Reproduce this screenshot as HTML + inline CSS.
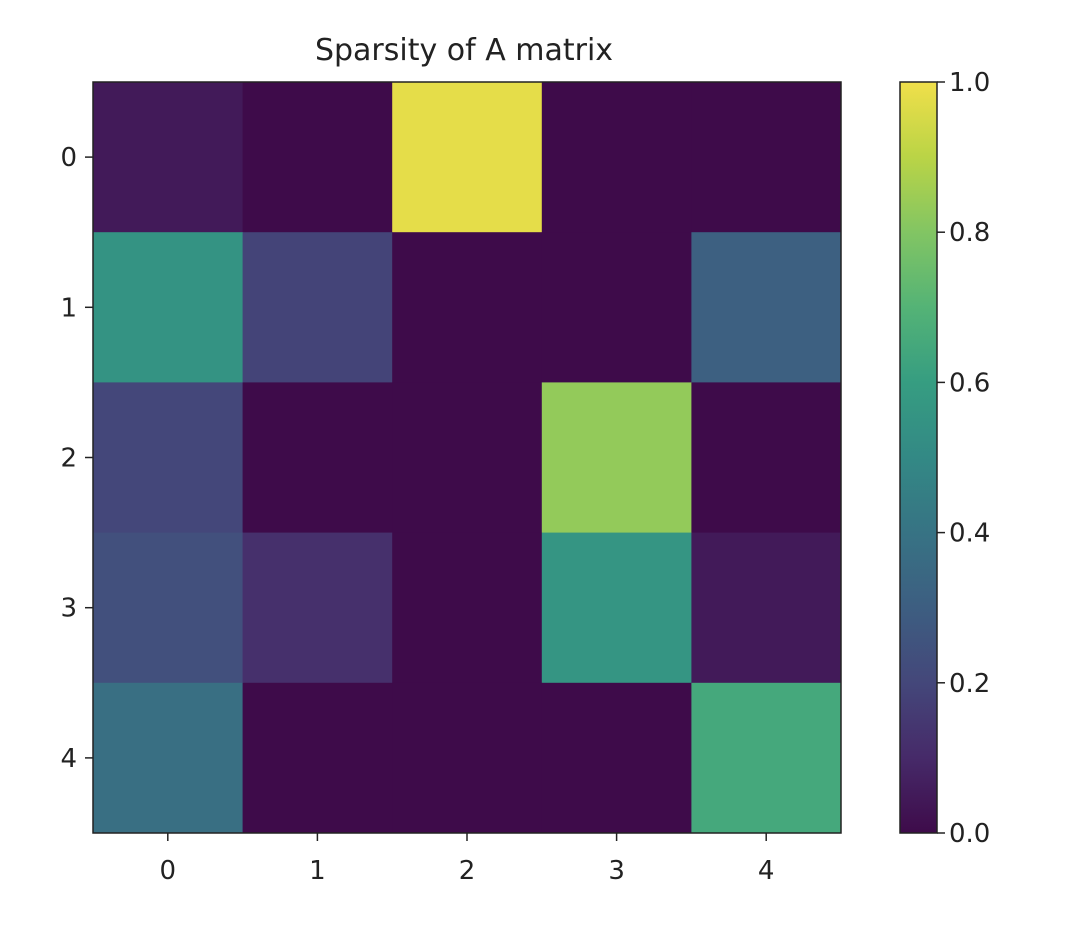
<!DOCTYPE html>
<html><head><meta charset="utf-8"><style>
body{margin:0;background:#fff;}
svg text{font-family:"DejaVu Sans","Liberation Sans",sans-serif;fill:#222;}
</style></head><body>
<svg id="chart" width="1074" height="932" xmlns="http://www.w3.org/2000/svg">
<defs><linearGradient id="vg" x1="0" y1="1" x2="0" y2="0"></linearGradient></defs>
<text x="464" y="60" font-size="30" text-anchor="middle">Sparsity of A matrix</text>
<g id="cells"></g>
<g id="axes"></g>
<g id="cbar"></g>
</svg>
<script>
const rowLabels=["0","1","2","3","4"];
const colLabels=["0","1","2","3","4"];
const values=[
[0.05,0.0,0.98,0.0,0.0],
[0.55,0.19,0.0,0.0,0.31],
[0.20,0.0,0.0,0.83,0.0],
[0.24,0.12,0.0,0.56,0.05],
[0.38,0.0,0.0,0.0,0.65]];
const cbarTicks=[0,0.2,0.4,0.6,0.8,1.0];
const cbarTickLabels=["0.0","0.2","0.4","0.6","0.8","1.0"];

const NS="http://www.w3.org/2000/svg";
const vir=[[68,1,84],[72,36,117],[65,68,135],[53,95,141],[42,120,142],[33,145,140],[34,168,132],[68,191,112],[122,209,81],[189,223,38],[253,231,37]];
function muted(c){const l=0.3*c[0]+0.59*c[1]+0.11*c[2];
 return c.map(v=>Math.max(0,Math.min(255,Math.round((l+(v-l)*0.8)*0.96+4))));}
function viridis(t){t=Math.max(0,Math.min(1,t));const p=t*10,i=Math.min(9,Math.floor(p)),f=p-i;const a=vir[i],b=vir[i+1];
return `rgb(${muted(a.map((v,k)=>v+(b[k]-v)*f)).join(",")})`;}
const X0=93,X1=841,Y0=82,Y1=833;
const cw=(X1-X0)/colLabels.length,ch=(Y1-Y0)/rowLabels.length;
const xS=j=>X0+j*cw, yS=i=>Y0+i*ch;
function mk(tag,attrs,parent){const e=document.createElementNS(NS,tag);for(const k in attrs)e.setAttribute(k,attrs[k]);parent.appendChild(e);return e;}
const cells=document.getElementById('cells'),axes=document.getElementById('axes'),cb=document.getElementById('cbar');
values.forEach((row,i)=>row.forEach((v,j)=>{
 const r=mk('rect',{x:xS(j),y:yS(i),width:cw+0.5,height:ch+0.5,fill:viridis(v)},cells);
 
 
}));
mk('rect',{x:X0,y:Y0,width:X1-X0,height:Y1-Y0,fill:'none',stroke:'#222','stroke-width':1.5},axes);
rowLabels.forEach((l,i)=>{const y=yS(i)+ch/2;
 mk('line',{x1:X0-8,x2:X0,y1:y,y2:y,stroke:'#222','stroke-width':1.5},axes);
 const t=mk('text',{x:X0-16,y:y+9,'font-size':26,'text-anchor':'end'},axes);t.textContent=l;
 
 });
colLabels.forEach((l,j)=>{const x=xS(j)+cw/2;
 mk('line',{x1:x,x2:x,y1:Y1,y2:Y1+8,stroke:'#222','stroke-width':1.5},axes);
 const t=mk('text',{x:x,y:Y1+46,'font-size':26,'text-anchor':'middle'},axes);t.textContent=l;
 
 });
const g=document.getElementById('vg');
vir.forEach((c,k)=>mk('stop',{offset:(k*10)+'%','stop-color':`rgb(${muted(c).join(',')})`},g));
const CX0=900,CX1=937;
const cy=v=>Y1-v*(Y1-Y0);
mk('rect',{x:CX0,y:Y0,width:CX1-CX0,height:Y1-Y0,fill:'url(#vg)',stroke:'#222','stroke-width':1.5},cb);
cbarTicks.forEach((v,k)=>{const y=cy(v);
 mk('line',{x1:CX1,x2:CX1+8,y1:y,y2:y,stroke:'#222','stroke-width':1.5},cb);
 const t=mk('text',{x:CX1+12,y:y+9,'font-size':26},cb);t.textContent=cbarTickLabels[k];
 
 });
</script>
</body></html>
